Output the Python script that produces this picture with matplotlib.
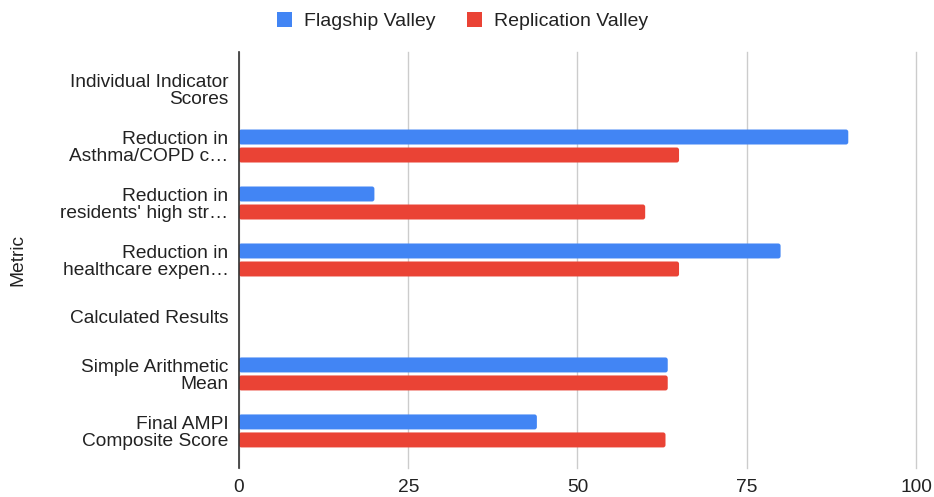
import numpy as np
import matplotlib.pyplot as plt
from matplotlib.patches import FancyBboxPatch

plt.rcParams['font.family'] = ['Liberation Sans', 'DejaVu Sans']

# Metric rows, top to bottom
metrics = [
    'Individual Indicator\nScores',
    'Reduction in\nAsthma/COPD c…',
    'Reduction in\nresidents\' high str…',
    'Reduction in\nhealthcare expen…',
    'Calculated Results',
    'Simple Arithmetic\nMean',
    'Final AMPI\nComposite Score',
]
flagship = [np.nan, 90, 20, 80, np.nan, 63.33, 44]
replication = [np.nan, 65, 60, 65, np.nan, 63.33, 63]

blue = '#4285F4'
red = '#EA4335'
text_color = '#222222'

fig, ax = plt.subplots(figsize=(9.34, 4.97), dpi=100)
fig.subplots_adjust(left=0.2559, right=0.9807, top=0.8954, bottom=0.0584)

y = np.arange(len(metrics))
h = 0.263
off = 0.158
bars_f = ax.barh(y - off, flagship, height=h, color=blue, label='Flagship Valley', zorder=3)
bars_r = ax.barh(y + off, replication, height=h, color=red, label='Replication Valley', zorder=3)

# swap the plain rectangles for ones with slightly rounded ends
for bars in (bars_f, bars_r):
    for rect in bars:
        w = rect.get_width()
        if np.isnan(w):
            continue
        rect.set_visible(False)
        ax.add_patch(FancyBboxPatch((rect.get_x(), rect.get_y()), w, rect.get_height(),
                                    boxstyle='round,pad=0,rounding_size=0.35',
                                    mutation_aspect=0.119, facecolor=rect.get_facecolor(),
                                    edgecolor='none', zorder=3))

ax.set_xlim(0, 100)
ax.set_ylim(len(metrics) - 0.35, -0.65)
ax.set_xticks([0, 25, 50, 75, 100])
ax.set_yticks(y)
ax.set_yticklabels(metrics, fontsize=13.8, color=text_color, linespacing=1.0)
ax.tick_params(axis='x', labelsize=13.8, colors=text_color, length=0, pad=8)
ax.tick_params(axis='y', length=0, pad=7.5)
ax.grid(axis='x', color='#cccccc', linewidth=1, zorder=0)
for gl in ax.get_xgridlines():
    gl.set_clip_on(False)

for side in ['top', 'right', 'bottom']:
    ax.spines[side].set_visible(False)
ax.spines['left'].set_color('#333333')
ax.spines['left'].set_linewidth(1.2)
ax.spines['left'].set_zorder(4)

ax.set_ylabel('Metric', fontsize=13.8, color=text_color)
ax.yaxis.set_label_coords(-0.314, 0.5)

fig.legend(handles=[bars_f, bars_r], loc='center', bbox_to_anchor=(0.495, 0.958), ncol=2,
           frameon=False, fontsize=14, handlelength=0.8, handleheight=0.8, columnspacing=1.6,
           handletextpad=0.6, labelcolor=text_color)

fig.savefig('out.png', dpi=100)
